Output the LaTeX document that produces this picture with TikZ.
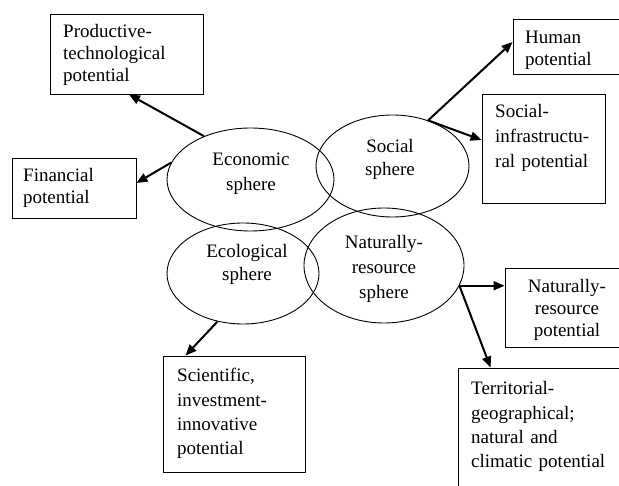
\documentclass[tikz,border=0pt]{standalone}
\usepackage{fontspec}
\setmainfont{Liberation Serif}
\usetikzlibrary{arrows.meta,calc,shapes.geometric}
\begin{document}
\begin{tikzpicture}[x=1pt,y=-1pt,
  box/.style={draw, line width=0.9pt, rectangle, inner sep=0pt},
  sph/.style={draw, ellipse, line width=0.9pt, inner sep=0pt},
  txt/.style={inner sep=0pt, align=left, text width=150pt, anchor=base west},
  ctxt/.style={inner sep=0pt, align=center, text width=150pt, anchor=base},
  arr/.style={line width=2pt, -{Triangle[length=11pt,width=9pt]}}
]
\useasboundingbox (0,0) rectangle (619,486);
\clip (0,0) rectangle (619,486);

% spheres
\node[sph, minimum width=167pt, minimum height=103pt] (econ) at (250.5,179.5) {};
\node[sph, minimum width=153pt, minimum height=102pt] (soc) at (392.5,166) {};
\node[sph, minimum width=152pt, minimum height=101pt] (eco) at (243,273.5) {};
\node[sph, minimum width=160pt, minimum height=115pt] (nat) at (384,265.5) {};

\node[ctxt, font=\fontsize{19}{25}\selectfont] (econ-t) at (251,166) {Economic\\sphere};
\node[ctxt, font=\fontsize{19}{22.5}\selectfont] (soc-t) at (390,152.7) {Social\\sphere};
\node[ctxt, font=\fontsize{19}{23}\selectfont] (eco-t) at (247,257.7) {Ecological\\sphere};
\node[ctxt, font=\fontsize{19}{25}\selectfont] (nat-t) at (384,248.3) {Naturally-\\resource\\sphere};

% boxes
\node[box, minimum width=153pt, minimum height=80pt] (prod) at (126.5,54) {};
\node[box, minimum width=124pt, minimum height=60pt] (fin) at (74,188) {};
\node[box, minimum width=140pt, minimum height=55pt] (hum) at (583,46.5) {};
\node[box, minimum width=123pt, minimum height=109pt] (sinf) at (543.5,148.5) {};
\node[box, minimum width=142pt, minimum height=116pt] (sci) at (234,414) {};
\node[box, minimum width=140pt, minimum height=79pt] (natp) at (575,307.5) {};
\node[box, minimum width=190pt, minimum height=140pt] (terr) at (553,438) {};

\node[txt, font=\fontsize{19}{21.7}\selectfont] (prod-t) at (63,37.7) {Productive-\\technological\\potential};
\node[txt, font=\fontsize{19}{22}\selectfont] (fin-t) at (23,182) {Financial\\potential};
\node[txt, font=\fontsize{19}{21.5}\selectfont] (hum-t) at (525,44) {Human\\potential};
\node[txt, font=\fontsize{19}{25}\selectfont] (sinf-t) at (495,118) {Social-\\infrastructu-\\ral potential};
\node[txt, font=\fontsize{19}{24.3}\selectfont] (sci-t) at (177,382) {Scientific,\\investment-\\innovative\\potential};
\node[ctxt, font=\fontsize{19}{22}\selectfont] (natp-t) at (567,293) {Naturally-\\resource\\potential};
\node[txt, font=\fontsize{19}{24.3}\selectfont] (terr-t) at (471,395) {Territorial-\\geographical;\\natural and\\climatic potential};

% arrows
\draw[arr] (econ.137) -- ($(prod.south)+(2.5,0)$);
\draw[arr] (econ.168) -- ($(fin.east)+(0,-5)$);
\draw[arr] (soc.52) -- ($(hum.west)+(0,-4.5)$);
\draw[arr] (soc.52) -- ($(sinf.west)+(0,-8.5)$);
\draw[arr] (nat.-15) -- (nat.-15 -| natp.west);
\draw[arr] (nat.-15) -- ($(terr.north west)+(33,0)$);
\draw[arr] (eco.242) -- ($(sci.north west)+(23,0)$);
\end{tikzpicture}
\end{document}
